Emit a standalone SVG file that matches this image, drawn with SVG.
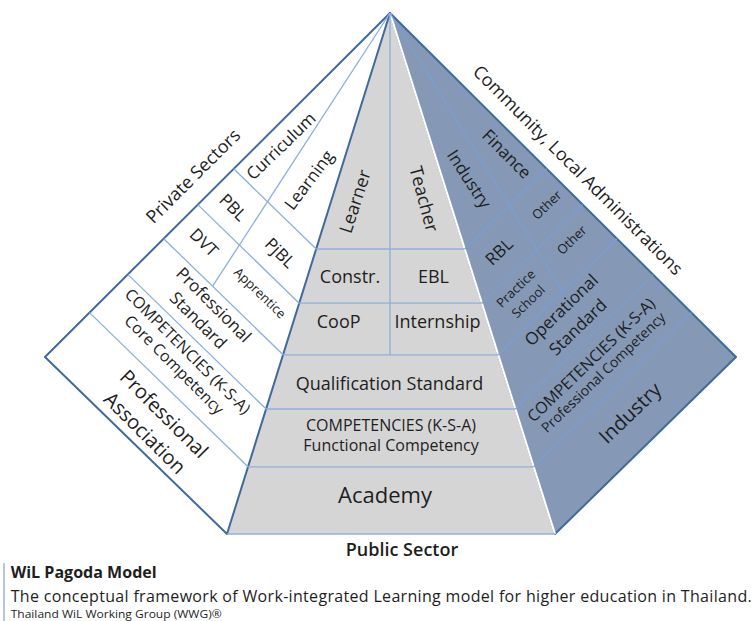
<svg xmlns="http://www.w3.org/2000/svg" width="756" height="621" viewBox="0 0 756 621">
<style>
.t{font-family:"Open Sans","Liberation Sans",sans-serif;fill:#1e1e1e;text-anchor:middle}
.s13{font-size:13px}.s14{font-size:14px}.s16{font-size:16px}.s17{font-size:17px}.s18{font-size:18px}.s20{font-size:20px}.s22{font-size:22px}
.il{stroke:#8cb0dc;stroke-width:1.3;fill:none}
.ir{stroke:#7b9fd2;stroke-width:1.3;fill:none}
.edge{stroke:#3f6a9c;stroke-width:2;stroke-linejoin:round}
</style>
<rect width="756" height="621" fill="#ffffff"/>
<g id="center-face"><polygon points="390,13 227,534 555,534" fill="#d5d5d5"/></g>
<g id="left-face"><polygon class="edge" points="390,13 45,357 227,534" fill="#ffffff"/></g>
<g id="right-face"><polygon class="edge" points="390,13 736,357 555,534" fill="#8598b5"/>
<line x1="390" y1="13" x2="555" y2="534" stroke="#ffffff" stroke-width="2.2"/></g>
<g id="connectors">
<line class="il" x1="227" y1="534" x2="555" y2="534" stroke-width="2"/>
<line class="il" x1="233.7" y1="168.8" x2="316.2" y2="249"/>
<line class="il" x1="197.8" y1="204.6" x2="299.2" y2="303.2"/>
<line class="il" x1="163.7" y1="238.7" x2="283.1" y2="354.8"/>
<line class="il" x1="127.8" y1="274.4" x2="266.1" y2="409"/>
<line class="il" x1="89.5" y1="312.6" x2="248" y2="466.8"/>
<line class="il" x1="390" y1="13" x2="212.6" y2="286.2"/>
<line class="il" x1="316.2" y1="249" x2="464.7" y2="249"/>
<line class="il" x1="299.2" y1="303.2" x2="481.9" y2="303.2"/>
<line class="il" x1="283.1" y1="354.8" x2="498.2" y2="354.8"/>
<line class="il" x1="266.1" y1="409" x2="515.4" y2="409"/>
<line class="il" x1="248" y1="466.8" x2="533.7" y2="466.8"/>
<line class="il" x1="390" y1="13" x2="390" y2="354.8"/>
<line class="ir" x1="546.7" y1="168.8" x2="464.7" y2="249"/>
<line class="ir" x1="582.7" y1="204.6" x2="481.9" y2="303.2"/>
<line class="ir" x1="617" y1="238.7" x2="498.2" y2="354.8"/>
<line class="ir" x1="653" y1="274.4" x2="515.4" y2="409"/>
<line class="ir" x1="691.4" y1="312.6" x2="533.7" y2="466.8"/>
<line class="ir" x1="390" y1="13" x2="562.7" y2="291.6"/>
</g>
<g id="private-sectors"><text class="t s18" transform="translate(193 176) rotate(-45)" dy="0.35em">Private Sectors</text></g>
<g id="community"><text class="t s18" transform="translate(578 170) rotate(45)" dy="0.35em">Community, Local Administrations</text></g>
<g id="curriculum"><text class="t s17" transform="translate(281 146) rotate(-44)" dy="0.35em">Curriculum</text></g>
<g id="learning"><text class="t s17" transform="translate(309 180) rotate(-53)" dy="0.35em">Learning</text></g>
<g id="pbl"><text class="t s17" transform="translate(233 207.5) rotate(45)" dy="0.35em">PBL</text></g>
<g id="pjbl"><text class="t s17" transform="translate(280 253) rotate(45)" dy="0.35em">PjBL</text></g>
<g id="dvt"><text class="t s17" transform="translate(204 242.5) rotate(45)" dy="0.35em">DVT</text></g>
<g id="apprentice"><text class="t s13" transform="translate(260 293) rotate(44)" dy="0.35em">Apprentice</text></g>
<g id="prof-standard"><text class="t s17" transform="translate(206 312.5) rotate(45)"><tspan x="0" y="-11" dy="0.35em">Professional</tspan><tspan x="0" y="11" dy="0.35em">Standard</tspan></text></g>
<g id="core-competency"><text class="t s16" transform="translate(181 358) rotate(45)"><tspan x="0" y="-9.5" dy="0.35em">COMPETENCIES (K-S-A)</tspan><tspan x="0" y="9.5" dy="0.35em">Core Competency</tspan></text></g>
<g id="prof-association"><text class="t s20" transform="translate(154.5 423.5) rotate(45)"><tspan x="0" y="-13.5" dy="0.35em">Professional</tspan><tspan x="0" y="13.5" dy="0.35em">Association</tspan></text></g>
<g id="learner"><text class="t s18" transform="translate(355 201.5) rotate(-72)" dy="0.35em">Learner</text></g>
<g id="teacher"><text class="t s18" transform="translate(424 199) rotate(75)" dy="0.35em">Teacher</text></g>
<g id="constr"><text class="t s18" x="350" y="282.7">Constr.</text></g>
<g id="ebl"><text class="t s18" x="433.5" y="282.7">EBL</text></g>
<g id="coop"><text class="t s18" x="338.7" y="328">CooP</text></g>
<g id="internship"><text class="t s18" x="437.5" y="328">Internship</text></g>
<g id="qualification"><text class="t s18" x="389.5" y="390">Qualification Standard</text></g>
<g id="functional"><text class="t s16" x="391" y="431">COMPETENCIES (K-S-A)</text><text class="t s16" x="391" y="451">Functional Competency</text></g>
<g id="academy"><text class="t s22" x="385" y="502.7">Academy</text></g>
<g id="industry-top"><text class="t s17" transform="translate(469 179) rotate(57)" dy="0.35em">Industry</text></g>
<g id="finance"><text class="t s17" transform="translate(506.7 154) rotate(45)" dy="0.35em">Finance</text></g>
<g id="rbl"><text class="t s17" transform="translate(499 251.7) rotate(-44)" dy="0.35em">RBL</text></g>
<g id="other1"><text class="t s13" transform="translate(546.7 205) rotate(-44)" dy="0.35em">Other</text></g>
<g id="other2"><text class="t s13" transform="translate(571.7 240) rotate(-44)" dy="0.35em">Other</text></g>
<g id="practice-school"><text class="t s13" transform="translate(522 295) rotate(-44)"><tspan x="0" y="-9" dy="0.35em">Practice</tspan><tspan x="0" y="9" dy="0.35em">School</tspan></text></g>
<g id="operational"><text class="t s17" transform="translate(569.5 318.5) rotate(-44)"><tspan x="0" y="-12" dy="0.35em">Operational</tspan><tspan x="0" y="12" dy="0.35em">Standard</tspan></text></g>
<g id="prof-competency"><text class="t" transform="translate(597 366) rotate(-44)"><tspan class="s16" x="0" y="-8.5" dy="0.35em">COMPETENCIES (K-S-A)</tspan><tspan class="s14" x="0" y="9" dy="0.35em">Professional Competency</tspan></text></g>
<g id="industry-bottom"><text class="t s20" transform="translate(630 413) rotate(-44)" dy="0.35em">Industry</text></g>
<g id="public-sector"><text class="t s18" x="402" y="556" font-weight="600">Public Sector</text></g>
<g id="caption">
<line x1="4" y1="563" x2="4" y2="621" stroke="#9db5d5" stroke-width="1.5"/>
<text x="10.7" y="578.3" font-family="Open Sans, Liberation Sans, sans-serif" font-size="15.5" font-weight="700" fill="#1e1e1e" textLength="146" lengthAdjust="spacingAndGlyphs">WiL Pagoda Model</text>
<text x="10.7" y="601.5" font-family="Open Sans, Liberation Sans, sans-serif" font-size="16" fill="#1e1e1e" textLength="741" lengthAdjust="spacing">The conceptual framework of Work-integrated Learning model for higher education in Thailand.</text>
<text x="10.7" y="617.5" font-family="Open Sans, Liberation Sans, sans-serif" font-size="11" fill="#1e1e1e" textLength="211" lengthAdjust="spacingAndGlyphs">Thailand WiL Working Group (WWG)®</text>
</g>
</svg>
